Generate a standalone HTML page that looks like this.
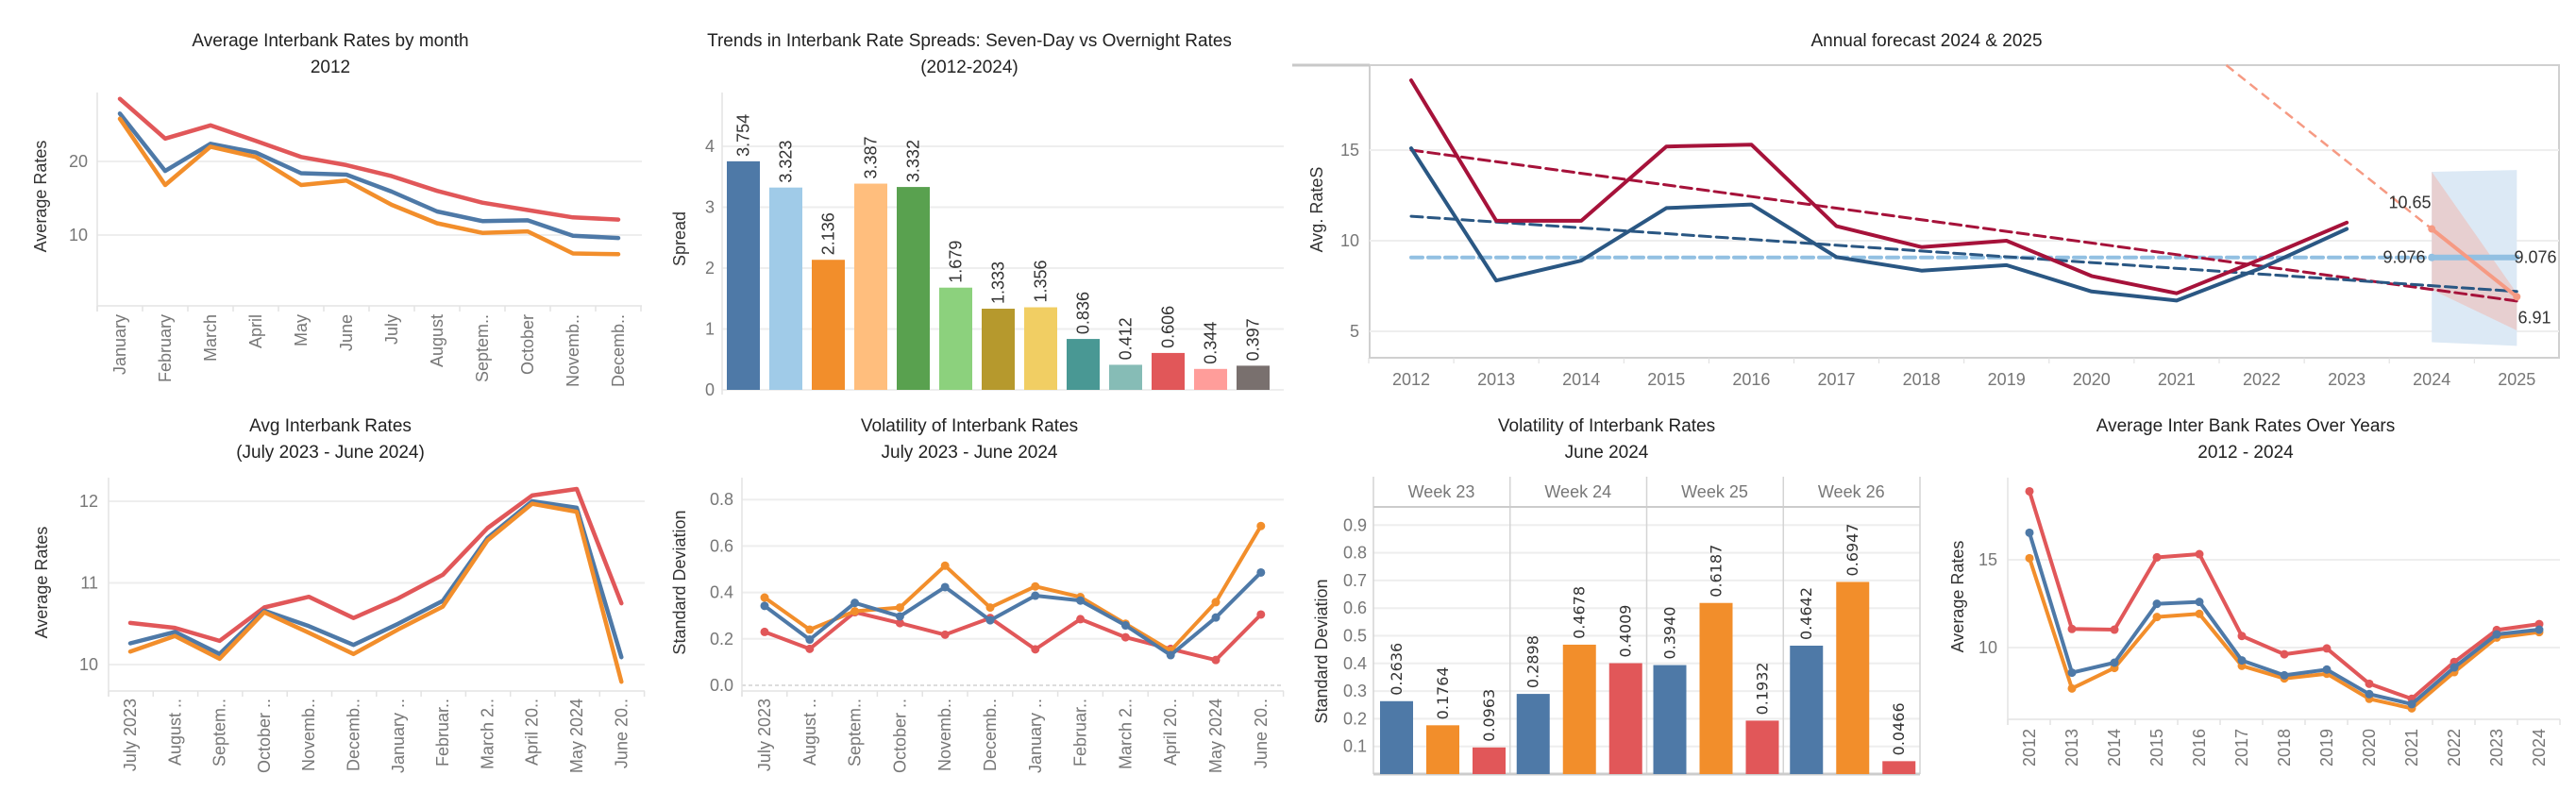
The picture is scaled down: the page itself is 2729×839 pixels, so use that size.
<!DOCTYPE html>
<html><head><meta charset="utf-8"><style>
html,body{margin:0;padding:0;background:#fff;}
svg{display:block;font-family:"Liberation Sans",sans-serif;}
.t{font-size:19px;fill:#222;text-anchor:middle;}
.tk{font-size:18px;fill:#777;}
.yt{font-size:18px;fill:#333;text-anchor:middle;}
</style></head><body>
<svg id="dash" xmlns="http://www.w3.org/2000/svg" width="2729" height="839" viewBox="0 0 2729 839"></svg>
<script>
// ---------- DATA ----------
const monthLabels = ['January','February','March','April','May','June','July','August','Septem..','October','Novemb..','Decemb..'];
const m2012Red = [28.5,23.1,24.9,22.8,20.6,19.5,18.0,16.0,14.4,13.4,12.4,12.1];
const m2012Blue = [26.5,18.7,22.4,21.2,18.4,18.2,15.9,13.2,11.9,12.0,9.9,9.6];
const m2012Orange = [25.8,16.8,22.0,20.6,16.8,17.4,14.1,11.6,10.3,10.5,7.5,7.4];
const c1Ticks = [10,20];

const spreadYears = ['2012','2013','2014','2015','2016','2017','2018','2019','2020','2021','2022','2023','2024'];
const spreadVals = [3.754,3.323,2.136,3.387,3.332,1.679,1.333,1.356,0.836,0.412,0.606,0.344,0.397];
const spreadColors = ['#4e79a7','#a0cbe8','#f28e2b','#ffbe7d','#59a14f','#8cd17d','#b6992d','#f1ce63','#499894','#86bcb6','#e15759','#ff9d9a','#79706e'];
const c2Ticks = [0,1,2,3,4];

const fcYears = ['2012','2013','2014','2015','2016','2017','2018','2019','2020','2021','2022','2023','2024','2025'];
const fcRed = [18.85,11.1,11.1,15.2,15.3,10.8,9.65,10.0,8.05,7.1,9.0,11.0];
const fcBlue = [15.1,7.8,8.9,11.8,12.0,9.1,8.35,8.65,7.2,6.7,8.5,10.65];
const fcRedTrend = [15.0,6.67];
const fcBlueTrend = [11.35,7.2];
const fcAvg = [9.076];
const fcForecast = [10.65,6.91];
const fcBlueBand = [[13.8,4.4],[13.9,4.2]];
const fcRedBand = [[13.8,7.3],[7.1,5.05]];
const c3Ticks = [5,10,15];

const ymLabels = ['July 2023','August ..','Septem..','October ..','Novemb..','Decemb..','January ..','Februar..','March 2..','April 20..','May 2024','June 20..'];
const ymRed = [10.51,10.45,10.29,10.70,10.83,10.57,10.81,11.10,11.67,12.07,12.15,10.75];
const ymBlue = [10.26,10.40,10.13,10.66,10.47,10.24,10.50,10.78,11.55,12.0,11.92,10.09];
const ymOrange = [10.16,10.35,10.07,10.64,10.39,10.13,10.43,10.71,11.52,11.97,11.87,9.79];
const c4Ticks = [10,11,12];

const sdOrange = [0.378,0.24,0.319,0.335,0.515,0.335,0.426,0.38,0.265,0.149,0.358,0.686];
const sdBlue = [0.342,0.197,0.355,0.297,0.423,0.28,0.386,0.365,0.258,0.13,0.292,0.486];
const sdRed = [0.23,0.157,0.315,0.268,0.218,0.29,0.155,0.285,0.207,0.157,0.109,0.305];
const c5Ticks = ['0.0','0.2','0.4','0.6','0.8'];

const weekLabels = ['Week 23','Week 24','Week 25','Week 26'];
const wkBlue = [0.2636,0.2898,0.3940,0.4642];
const wkOrange = [0.1764,0.4678,0.6187,0.6947];
const wkRed = [0.0963,0.4009,0.1932,0.0466];
const c6Ticks = ['0.1','0.2','0.3','0.4','0.5','0.6','0.7','0.8','0.9'];

const yrLabels = ['2012','2013','2014','2015','2016','2017','2018','2019','2020','2021','2022','2023','2024'];
const yrRed = [18.9,11.06,11.02,15.14,15.32,10.66,9.62,9.95,7.94,7.08,9.18,11.0,11.34];
const yrBlue = [16.54,8.57,9.14,12.49,12.6,9.27,8.42,8.75,7.35,6.78,8.87,10.75,11.02];
const yrOrange = [15.09,7.67,8.84,11.74,11.92,8.96,8.24,8.51,7.08,6.54,8.6,10.57,10.88];
const c7Ticks = [10,15];

// ---------- HELPERS ----------
const NS = 'http://www.w3.org/2000/svg';
const svg = document.getElementById('dash');
function mk(tag, attrs, txt) {
  const e = document.createElementNS(NS, tag);
  for (const k in attrs) e.setAttribute(k, attrs[k]);
  if (txt !== undefined) e.textContent = txt;
  svg.appendChild(e);
  return e;
}
const BLUE='#4e79a7', ORANGE='#f28e2b', RED='#e15759';

function title(x, y, s, name) {
  const e = mk('text', {x:x, y:y, class:'t'}, s);
  
  
}
function ytitle(x, y, s, name) {
  const e = mk('text', {x:x, y:y, class:'yt', transform:'rotate(-90 '+x+' '+y+')', 'dominant-baseline':'central'}, s);
  
  
}
function grid(x1, x2, y, name, dash) {
  const e = mk('line', {x1:x1, x2:x2, y1:y, y2:y, stroke: dash ? '#bbb' : '#eeeeee', 'stroke-width': dash ? 1 : 2, 'stroke-dasharray': dash ? '4 3' : 'none'});
  
  
}
function tick(x, y, s, name, anchor) {
  const e = mk('text', {x:x, y:y, class:'tk', 'text-anchor':anchor || 'end', 'dominant-baseline':'central'}, s);
  
  
}
function rotLabel(x, y, s, name) {
  const e = mk('text', {x:x, y:y, class:'tk', 'text-anchor':'end', 'dominant-baseline':'central', transform:'rotate(-90 '+x+' '+y+')'}, s);
  
  
}
function axisLine(x1, y1, x2, y2, name, col, w) {
  const e = mk('line', {x1:x1, y1:y1, x2:x2, y2:y2, stroke:col || '#e3e3e3', 'stroke-width':w || 1.5});
  
  
}
function series(vals, xf, yf, col, w, name, dash, markers) {
  const pts = vals.map((v, i) => xf(i).toFixed(1) + ',' + yf(v).toFixed(1)).join(' ');
  const e = mk('polyline', {points:pts, fill:'none', stroke:col, 'stroke-width':w, 'stroke-linejoin':'round', 'stroke-linecap':'round', 'stroke-dasharray':dash || 'none'});
  
  
  if (markers) {
    vals.forEach((v, i) => {
      const c = mk('circle', {cx:xf(i), cy:yf(v), r:markers, fill:col});
      
      
    });
  }
}

// ---------- CHART 1 ----------
(function(){
  const L=103, R=680, T=98, B=324;
  const x = i => L + 48*(i+0.5);
  const y = v => 249 - (v-10)*7.8;
  title(350, 49, 'Average Interbank Rates by month', 'chart1-title');
  title(350, 77, '2012', 'chart1-subtitle');
  c1Ticks.forEach(t => { grid(L, R, y(t), 'chart1-gridline'); tick(93, y(t), String(t), 'chart1-y-tick'); });
  axisLine(L, T, L, B+6, 'chart1-y-axis');
  axisLine(L, B, R, B, 'chart1-x-axis');
  for (let i=0;i<=12;i++) axisLine(L+48*i, B, L+48*i, B+6, 'chart1-x-tickmark');
  ytitle(43, 208, 'Average Rates', 'chart1-y-axis-title');
  monthLabels.forEach((m,i) => rotLabel(x(i), 333, m, 'chart1-x-label'));
  series(m2012Red, x, y, RED, 4.5, 'chart1-line-red');
  series(m2012Blue, x, y, BLUE, 4.5, 'chart1-line-blue');
  series(m2012Orange, x, y, ORANGE, 4.5, 'chart1-line-orange');
})();

// ---------- CHART 2 ----------
(function(){
  const L=765, R=1360;
  const y = v => 413 - v*64.5;
  title(1027, 49, 'Trends in Interbank Rate Spreads: Seven-Day vs Overnight Rates', 'chart2-title');
  title(1027, 77, '(2012-2024)', 'chart2-subtitle');
  c2Ticks.forEach(t => { grid(L, R, y(t), 'chart2-gridline'); tick(757, y(t), String(t), 'chart2-y-tick'); });
  axisLine(L, 98, L, 418, 'chart2-y-axis');
  ytitle(720, 253, 'Spread', 'chart2-y-axis-title');
  spreadVals.forEach((v,i) => {
    const bx = 770 + i*45;
    const b = mk('rect', {x:bx, y:y(v), width:35, height:413-y(v), fill:spreadColors[i]});
    
    
    const lx = bx+17.5, ly = y(v)-5;
    const t = mk('text', {x:lx, y:ly, 'font-size':18, fill:'#333', 'text-anchor':'start', 'dominant-baseline':'central', transform:'rotate(-90 '+lx+' '+ly+')'}, v.toFixed(3));
    
    
  });
})();

// ---------- CHART 3 ----------
(function(){
  const L=1451, R=2711, T=69, B=379;
  const x = i => 1495 + i*90.1;
  const y = v => 255 - (v-10)*19.2;
  title(2041, 49, 'Annual forecast 2024 & 2025', 'chart3-title');
  const box = mk('rect', {x:L, y:T, width:R-L, height:B-T, fill:'none', stroke:'#d0d0d0', 'stroke-width':2});
  
  
  axisLine(1369, T, L, T, 'chart3-top-border', '#c8c8c8', 3);
  c3Ticks.forEach(t => { grid(L, R, y(t), 'chart3-gridline'); tick(1440, y(t), String(t), 'chart3-y-tick'); });
  ytitle(1395, 222, 'Avg. RateS', 'chart3-y-axis-title');
  fcYears.forEach((s,i) => {
    const e = mk('text', {x:x(i), y:408, class:'tk', 'text-anchor':'middle'}, s);
    
    
    axisLine(x(i)-45, B, x(i)-45, B+6, 'chart3-x-tickmark', '#ddd', 1);
  });
  const bb = mk('polygon', {points:[[12,fcBlueBand[0][0]],[13,fcBlueBand[1][0]],[13,fcBlueBand[1][1]],[12,fcBlueBand[0][1]]].map(p=>x(p[0])+','+y(p[1])).join(' '), fill:'#dce9f5'});
  
  
  const rb = mk('polygon', {points:[[12,fcRedBand[0][0]],[13,fcRedBand[1][0]],[13,fcRedBand[1][1]],[12,fcRedBand[0][1]]].map(p=>x(p[0])+','+y(p[1])).join(' '), fill:'#e8cccc', opacity:0.9});
  
  
  series([fcAvg[0], fcAvg[0]], i => x(i*12), y, '#92c0e2', 4, 'average-line-dashed', '12 6');
  series([fcAvg[0], fcAvg[0]], i => x(12+i), y, '#92c0e2', 6, 'average-line-forecast');
  const ad = mk('circle', {cx:x(12), cy:y(fcAvg[0]), r:4, fill:'#92c0e2'});
  
  
  series(fcRedTrend, i => x(i*13), y, '#a6123a', 3, 'red-trend-line', '12 6');
  series(fcBlueTrend, i => x(i*13), y, '#2a5783', 3, 'blue-trend-line', '12 6');
  series(fcRed, x, y, '#a6123a', 4, 'red-actual-line');
  series(fcBlue, x, y, '#2a5783', 4, 'blue-actual-line');
  const slope = fcForecast[0] - fcForecast[1];
  const vTop = 10 + (255 - T)/19.2;
  const back = (vTop - fcForecast[0]) / slope;
  const fd = mk('line', {x1:x(12-back), y1:y(vTop), x2:x(12), y2:y(fcForecast[0]), stroke:'#f69a83', 'stroke-width':2.5, 'stroke-dasharray':'10 6'});
  
  
  series(fcForecast, i => x(12+i), y, '#f69a83', 4, 'forecast-line', null, 4);
  const labs = [[2553, y(fcForecast[0])-28, fcForecast[0].toFixed(2), 'forecast-2024-label'],
                [2547, y(fcAvg[0]), fcAvg[0].toFixed(3), 'average-2024-label'],
                [2686, y(fcAvg[0]), fcAvg[0].toFixed(3), 'average-2025-label'],
                [2685, y(fcForecast[1])+22, fcForecast[1].toFixed(2), 'forecast-2025-label']];
  labs.forEach(l => {
    const e = mk('text', {x:l[0], y:l[1], 'font-size':18, fill:'#333', 'text-anchor':'middle', 'dominant-baseline':'central'}, l[2]);
    
    
  });
})();

// ---------- CHART 4 ----------
(function(){
  const L=115, R=683, T=506, B=732;
  const x = i => 138 + i*47.3;
  const y = v => 704 - (v-10)*86.5;
  title(350, 457, 'Avg Interbank Rates', 'chart4-title');
  title(350, 485, '(July 2023 - June 2024)', 'chart4-subtitle');
  c4Ticks.forEach(t => { grid(L, R, y(t), 'chart4-gridline'); tick(104, y(t), String(t), 'chart4-y-tick'); });
  axisLine(L, T, L, B+6, 'chart4-y-axis');
  axisLine(L, B, R, B, 'chart4-x-axis');
  for (let i=0;i<=12;i++) axisLine(L+47.3*i, B, L+47.3*i, B+6, 'chart4-x-tickmark');
  ytitle(44, 617, 'Average Rates', 'chart4-y-axis-title');
  ymLabels.forEach((m,i) => rotLabel(x(i), 740, m, 'chart4-x-label'));
  series(ymRed, x, y, RED, 4.5, 'chart4-line-red');
  series(ymBlue, x, y, BLUE, 4.5, 'chart4-line-blue');
  series(ymOrange, x, y, ORANGE, 4.5, 'chart4-line-orange');
})();

// ---------- CHART 5 ----------
(function(){
  const L=786, R=1360, T=506, B=732;
  const x = i => 810 + i*47.8;
  const y = v => 726 - v*246;
  title(1027, 457, 'Volatility of Interbank Rates', 'chart5-title');
  title(1027, 485, 'July 2023 - June 2024', 'chart5-subtitle');
  c5Ticks.forEach(t => { const v = parseFloat(t); grid(L, R, y(v), 'chart5-gridline', v===0); tick(777, y(v), t, 'chart5-y-tick'); });
  axisLine(L, T, L, B+6, 'chart5-y-axis');
  axisLine(L, B, R, B, 'chart5-x-axis');
  for (let i=0;i<=12;i++) axisLine(L+47.8*i, B, L+47.8*i, B+6, 'chart5-x-tickmark');
  ytitle(720, 617, 'Standard Deviation', 'chart5-y-axis-title');
  ymLabels.forEach((m,i) => rotLabel(x(i), 740, m, 'chart5-x-label'));
  series(sdRed, x, y, RED, 4, 'chart5-line-red', null, 4.5);
  series(sdOrange, x, y, ORANGE, 4, 'chart5-line-orange', null, 4.5);
  series(sdBlue, x, y, BLUE, 4, 'chart5-line-blue', null, 4.5);
})();

// ---------- CHART 6 ----------
(function(){
  const L=1455, R=2034, HT=505, HB=537, B=820;
  const y = v => 820 - v*293;
  title(1702, 457, 'Volatility of Interbank Rates', 'chart6-title');
  title(1702, 485, 'June 2024', 'chart6-subtitle');
  c6Ticks.forEach(t => { const v = parseFloat(t); grid(L, R, y(v), 'chart6-gridline'); tick(1448, y(v), t, 'chart6-y-tick'); });
  ytitle(1400, 690, 'Standard Deviation', 'chart6-y-axis-title');
  for (let w=0; w<=4; w++) axisLine(L+w*144.75, HT, L+w*144.75, B, 'chart6-week-divider', '#d4d4d4', 1.5);
  axisLine(L, HB, R, HB, 'chart6-header-line', '#ccc', 2);
  axisLine(L, B, R, B, 'chart6-x-axis', '#ccc', 3);
  weekLabels.forEach((wl, w) => {
    const e = mk('text', {x:L+w*144.75+72, y:521, class:'tk', 'text-anchor':'middle', 'dominant-baseline':'central'}, wl);
    
    
    [[wkBlue,BLUE,'blue'],[wkOrange,ORANGE,'orange'],[wkRed,RED,'red']].forEach((s, j) => {
      const v = s[0][w];
      const bx = L + w*144.75 + 7 + j*49;
      const b = mk('rect', {x:bx, y:y(v), width:35, height:B-y(v), fill:s[1]});
      
      
      const lx = bx+17.5, ly = y(v)-6;
      const t = mk('text', {x:lx, y:ly, 'font-family':'DejaVu Sans, sans-serif', 'font-size':16, fill:'#333', 'text-anchor':'start', 'dominant-baseline':'central', transform:'rotate(-90 '+lx+' '+ly+')'}, v.toFixed(4));
      
      
    });
  });
})();

// ---------- CHART 7 ----------
(function(){
  const L=2127, R=2712, T=506, B=762;
  const x = i => 2150 + i*45;
  const y = v => 686 - (v-10)*18.6;
  title(2379, 457, 'Average Inter Bank  Rates Over Years', 'chart7-title');
  title(2379, 485, '2012 - 2024', 'chart7-subtitle');
  c7Ticks.forEach(t => { grid(L, R, y(t), 'chart7-gridline'); tick(2116, y(t), String(t), 'chart7-y-tick'); });
  axisLine(L, T, L, B+6, 'chart7-y-axis');
  axisLine(L, B, R, B, 'chart7-x-axis');
  for (let i=0;i<=13;i++) axisLine(L+45*i, B, L+45*i, B+6, 'chart7-x-tickmark');
  ytitle(2074, 632, 'Average Rates', 'chart7-y-axis-title');
  yrLabels.forEach((m,i) => rotLabel(x(i), 772, m, 'chart7-x-label'));
  series(yrRed, x, y, RED, 4, 'chart7-line-red', null, 4.5);
  series(yrOrange, x, y, ORANGE, 4, 'chart7-line-orange', null, 4.5);
  series(yrBlue, x, y, BLUE, 4, 'chart7-line-blue', null, 4.5);
})();
</script>
</body></html>
